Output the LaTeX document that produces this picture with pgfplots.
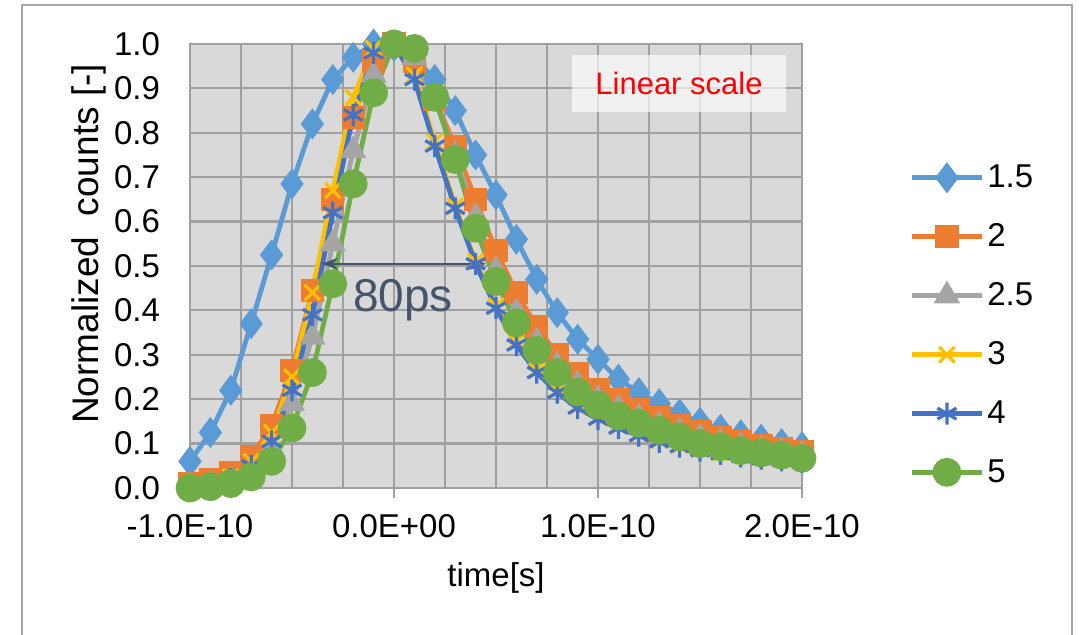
\documentclass[border=0pt]{standalone}
\usepackage{fontspec}
\setmainfont{Liberation Sans}
\usepackage{pgfplots}
\pgfplotsset{compat=1.18}
\usepackage{pgfplotstable}
\usetikzlibrary{arrows.meta}
\definecolor{cA}{HTML}{5B9BD5}
\definecolor{cB}{HTML}{ED7D31}
\definecolor{cC}{HTML}{A5A5A5}
\definecolor{cD}{HTML}{FFC000}
\definecolor{cE}{HTML}{4472C4}
\definecolor{cF}{HTML}{70AD47}
\definecolor{bgc}{HTML}{D9D9D9}
\definecolor{gridc}{HTML}{A0A0A0}
\definecolor{arrc}{HTML}{44546A}
\definecolor{framec}{HTML}{A6A6A6}
\pgfplotstableread{
t a b c d e f
-1.0e-10 0.06 0.01 0.003 0.005 0.003 0.0
-0.9e-10 0.125 0.02 0.006 0.01 0.008 0.003
-0.8e-10 0.22 0.035 0.015 0.025 0.02 0.01
-0.7e-10 0.37 0.07 0.04 0.06 0.05 0.025
-0.6e-10 0.525 0.14 0.09 0.125 0.105 0.06
-0.5e-10 0.685 0.265 0.19 0.25 0.22 0.135
-0.4e-10 0.82 0.445 0.34 0.44 0.39 0.26
-0.3e-10 0.92 0.65 0.55 0.67 0.62 0.46
-0.2e-10 0.97 0.835 0.76 0.88 0.84 0.685
-0.1e-10 1.0 0.96 0.93 0.99 0.98 0.89
0.0 0.995 1.0 1.0 1.0 1.0 1.0
0.1e-10 0.97 0.96 0.97 0.93 0.92 0.99
0.2e-10 0.92 0.876 0.875 0.78 0.77 0.88
0.3e-10 0.85 0.77 0.75 0.635 0.63 0.74
0.4e-10 0.75 0.65 0.61 0.51 0.505 0.585
0.5e-10 0.66 0.535 0.49 0.41 0.405 0.465
0.6e-10 0.56 0.44 0.395 0.33 0.322 0.372
0.7e-10 0.47 0.363 0.33 0.265 0.26 0.31
0.8e-10 0.395 0.30 0.275 0.22 0.215 0.26
0.9e-10 0.335 0.257 0.232 0.185 0.18 0.216
1.0e-10 0.29 0.222 0.2 0.16 0.155 0.187
1.1e-10 0.245 0.198 0.178 0.14 0.135 0.162
1.2e-10 0.215 0.177 0.158 0.122 0.118 0.146
1.3e-10 0.19 0.158 0.141 0.108 0.104 0.13
1.4e-10 0.167 0.141 0.126 0.097 0.093 0.115
1.5e-10 0.148 0.126 0.113 0.088 0.084 0.10
1.6e-10 0.132 0.114 0.102 0.08 0.077 0.093
1.7e-10 0.12 0.104 0.093 0.074 0.071 0.084
1.8e-10 0.11 0.096 0.086 0.069 0.066 0.079
1.9e-10 0.10 0.089 0.08 0.065 0.062 0.074
2.0e-10 0.093 0.082 0.074 0.06 0.058 0.067
}\data
\begin{document}
\begin{tikzpicture}[x=1pt,y=1pt]
\useasboundingbox (0,0) rectangle (539.5,317.5);
\fill[white] (0,0) rectangle (539.5,317.5);
\draw[framec, line width=1pt] (11,-5) rectangle (536,315);
\begin{axis}[
  at={(95pt,73.5pt)}, anchor=south west, scale only axis,
  width=306pt, height=222pt,
  xmin=-1e-10, xmax=2e-10, ymin=0, ymax=1,
  scaled x ticks=false,
  clip=false,
  axis background/.style={fill=bgc},
  xmajorgrids, ymajorgrids, xminorgrids,
  major grid style={gridc, line width=1.1pt},
  minor grid style={gridc, line width=1.1pt},
  axis line style={gridc, line width=1.1pt},
  xtick={-1e-10,0,1e-10,2e-10},
  xticklabels={-1.0E-10,0.0E+00,1.0E-10,2.0E-10},
  minor xtick={-7.5e-11,-5e-11,-2.5e-11,2.5e-11,5e-11,7.5e-11,1.25e-10,1.5e-10,1.75e-10},
  ytick={0,0.1,0.2,0.3,0.4,0.5,0.6,0.7,0.8,0.9,1},
  yticklabels={0.0,0.1,0.2,0.3,0.4,0.5,0.6,0.7,0.8,0.9,1.0},
  xtick pos=left, ytick style={draw=none},
  tick align=outside, major tick length=5pt, minor tick length=0pt,
  xtick style={gridc, line width=1.1pt},
  tick label style={font=\fontsize{16.5}{19.8}\selectfont, text=black},
  yticklabel style={xshift=-6.5pt},
  xticklabel style={yshift=-4.5pt},
  xlabel={time[s]},
  xlabel style={at={(axis description cs:0.5,-0.203)}, anchor=center, font=\fontsize{16.5}{19.8}\selectfont},
  ylabel={Normalized\ \ counts [-]},
  ylabel style={at={(axis description cs:-0.165,0.55)}, anchor=center, font=\fontsize{18.5}{22}\selectfont},
  legend style={at={(1.175,0.367)}, anchor=west, draw=none, fill=none,
    font=\fontsize{16.5}{19.8}\selectfont, row sep=13.5pt, inner sep=0pt,
    nodes={inner sep=1.5pt}},
  legend cell align=left,
  legend image code/.code={\draw[#1, mark repeat=2, mark phase=2] plot coordinates {(0pt,0pt) (17.5pt,0pt) (35pt,0pt)};},
  every axis plot/.append style={line width=2.4pt},
]
\addplot[color=cA, mark=diamond*, mark size=5.8pt, mark options={solid}] table[x=t,y=a]{\data};
\addlegendentry{1.5}
\addplot[color=cB, mark=square*, mark size=4.6pt, mark options={solid}] table[x=t,y=b]{\data};
\addlegendentry{2}
\addplot[color=cC, mark=triangle*, mark size=5.2pt, mark options={solid}] table[x=t,y=c]{\data};
\addlegendentry{2.5}
\addplot[color=cD, mark=x, mark size=5.5pt, mark options={solid, line width=1.6pt}] table[x=t,y=d]{\data};
\addlegendentry{3}
\addplot[color=cE, mark=asterisk, mark size=5.5pt, mark options={solid, line width=1.6pt}] table[x=t,y=e]{\data};
\addlegendentry{4}
\addplot[color=cF, mark=*, mark size=6pt, mark options={solid}] table[x=t,y=f]{\data};
\addlegendentry{5}
\draw[arrc, line width=1pt, {Stealth[length=8pt,width=6pt]}-{Stealth[length=8pt,width=6pt]}] (axis cs:-3.53e-11,0.505) -- (axis cs:4.5e-11,0.505);
\node[text=arrc, font=\fontsize{23}{27.5}\selectfont] at (axis cs:0.44e-11,0.423) {80ps};
\fill[white, opacity=0.65] (axis cs:8.73e-11,0.847) rectangle (axis cs:1.92e-10,0.975);
\node[text=red, font=\fontsize{15.5}{18.6}\selectfont] at (axis cs:1.397e-10,0.911) {Linear scale};
\end{axis}
\end{tikzpicture}
\end{document}
